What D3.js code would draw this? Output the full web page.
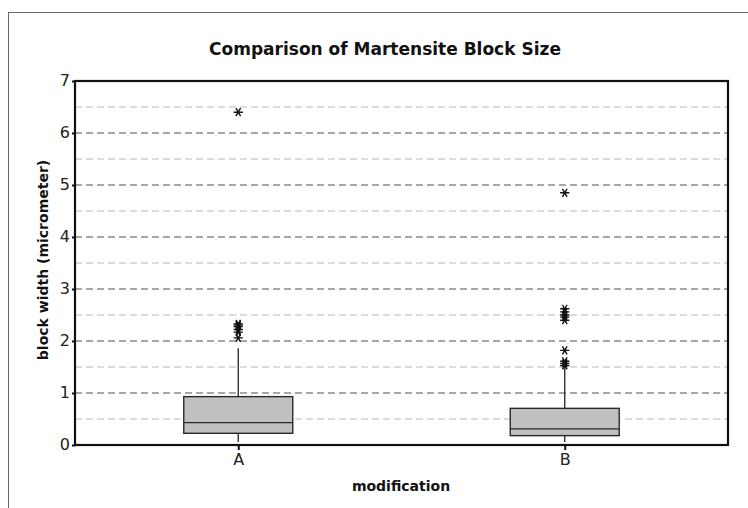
<!DOCTYPE html>
<html><head><meta charset="utf-8">
<script src="https://cdn.jsdelivr.net/npm/d3@7"></script>
<style>body{margin:0;background:#fff;} svg{display:block;}</style>
</head><body>
<svg id="chart" width="748" height="508"></svg>
<script>
const categories = ["A", "B"];
const q1Values = [0.225, 0.18];
const medianValues = [0.43, 0.31];
const q3Values = [0.93, 0.705];
const whiskerLow = [0.06, 0.06];
const whiskerHigh = [1.86, 1.5];
const outliersA = [6.40, 2.33, 2.31, 2.28, 2.22, 2.17, 2.06];
const outliersB = [4.85, 2.62, 2.56, 2.50, 2.46, 2.40, 1.82, 1.61, 1.57, 1.53];
const yTicks = [0, 1, 2, 3, 4, 5, 6, 7];
const yMinorGrid = [0.5, 1.5, 2.5, 3.5, 4.5, 5.5, 6.5];
const yMajorGrid = [1, 2, 3, 4, 5, 6];

const outliers = [outliersA, outliersB];
const svg = d3.select("#chart");
const m = {left: 75, right: 728, top: 81, bottom: 445};
const font = "DejaVu Sans, Verdana, sans-serif";

svg.append("rect").attr("x", 8.5).attr("y", 12.5).attr("width", 800).attr("height", 600)
  .attr("fill", "none").attr("stroke", "#666").attr("stroke-width", 1);

const x = d3.scalePoint().domain(categories).range([m.left, m.right]).padding(0.5);
const y = d3.scaleLinear().domain([0, 7]).range([m.bottom, m.top]);

// grid
svg.append("g").selectAll("line").data(yMinorGrid).join("line")
  .attr("x1", m.left).attr("x2", m.right).attr("y1", d => y(d)).attr("y2", d => y(d))
  .attr("stroke", "#cfcfcf").attr("stroke-width", 1.3).attr("stroke-dasharray", "7,4");
svg.append("g").selectAll("line").data(yMajorGrid).join("line")
  .attr("x1", m.left).attr("x2", m.right).attr("y1", d => y(d)).attr("y2", d => y(d))
  .attr("stroke", "#8a8a8a").attr("stroke-width", 1.3).attr("stroke-dasharray", "7,4");

// boxes
const bw = 109;
const g = svg.append("g");
categories.forEach((c, i) => {
  const cx = x(c);
  g.append("line").attr("x1", cx).attr("x2", cx).attr("y1", y(whiskerLow[i])).attr("y2", y(q1Values[i]))
    .attr("stroke", "#222").attr("stroke-width", 1.3);
  g.append("line").attr("x1", cx).attr("x2", cx).attr("y1", y(q3Values[i])).attr("y2", y(whiskerHigh[i]))
    .attr("stroke", "#222").attr("stroke-width", 1.3);
  g.append("rect").attr("x", cx - bw / 2).attr("width", bw)
    .attr("y", y(q3Values[i])).attr("height", y(q1Values[i]) - y(q3Values[i]))
    .attr("fill", "#c0c0c0").attr("stroke", "#2a2a2a").attr("stroke-width", 1.4);
  g.append("line").attr("x1", cx - bw / 2).attr("x2", cx + bw / 2)
    .attr("y1", y(medianValues[i])).attr("y2", y(medianValues[i]))
    .attr("stroke", "#2a2a2a").attr("stroke-width", 1.4);
  const sym = d3.symbol().type(d3.symbolAsterisk).size(60);
  g.selectAll(null).data(outliers[i]).join("path")
    .attr("d", sym)
    .attr("transform", d => `translate(${cx},${y(d)}) rotate(90)`)
    .attr("fill", "none").attr("stroke", "#111").attr("stroke-width", 1.4);
});

// frame
svg.append("rect").attr("x", m.left).attr("y", m.top).attr("width", m.right - m.left).attr("height", m.bottom - m.top)
  .attr("fill", "none").attr("stroke", "#111").attr("stroke-width", 2.2);

// axes
const yAxis = svg.append("g").attr("transform", `translate(${m.left},0)`)
  .call(d3.axisLeft(y).tickValues(yTicks).tickSize(3).tickFormat(d3.format("d")));
const xAxis = svg.append("g").attr("transform", `translate(0,${m.bottom})`)
  .call(d3.axisBottom(x).tickSize(5));
[yAxis, xAxis].forEach(a => {
  a.select(".domain").remove();
  a.selectAll(".tick line").attr("stroke", "#111").attr("stroke-width", 2);
  a.selectAll("text").attr("font-family", font).attr("font-size", 16).attr("fill", "#222");
});
yAxis.selectAll("text").attr("x", -5).attr("dy", "0.28em");
xAxis.selectAll("text").attr("y", 9);

// titles
svg.append("text").attr("x", 385).attr("y", 55).attr("text-anchor", "middle")
  .attr("font-family", font).attr("font-weight", "bold").attr("font-size", 17).attr("fill", "#111")
  .text("Comparison of Martensite Block Size");
svg.append("text").attr("x", 401).attr("y", 491).attr("text-anchor", "middle")
  .attr("font-family", font).attr("font-weight", "bold").attr("font-size", 14).attr("fill", "#111")
  .text("modification");
svg.append("text").attr("transform", `translate(48,${(m.top + m.bottom) / 2 - 3}) rotate(-90)`)
  .attr("text-anchor", "middle")
  .attr("font-family", font).attr("font-weight", "bold").attr("font-size", 14).attr("fill", "#111")
  .text("block width (micrometer)");
</script>
</body></html>
